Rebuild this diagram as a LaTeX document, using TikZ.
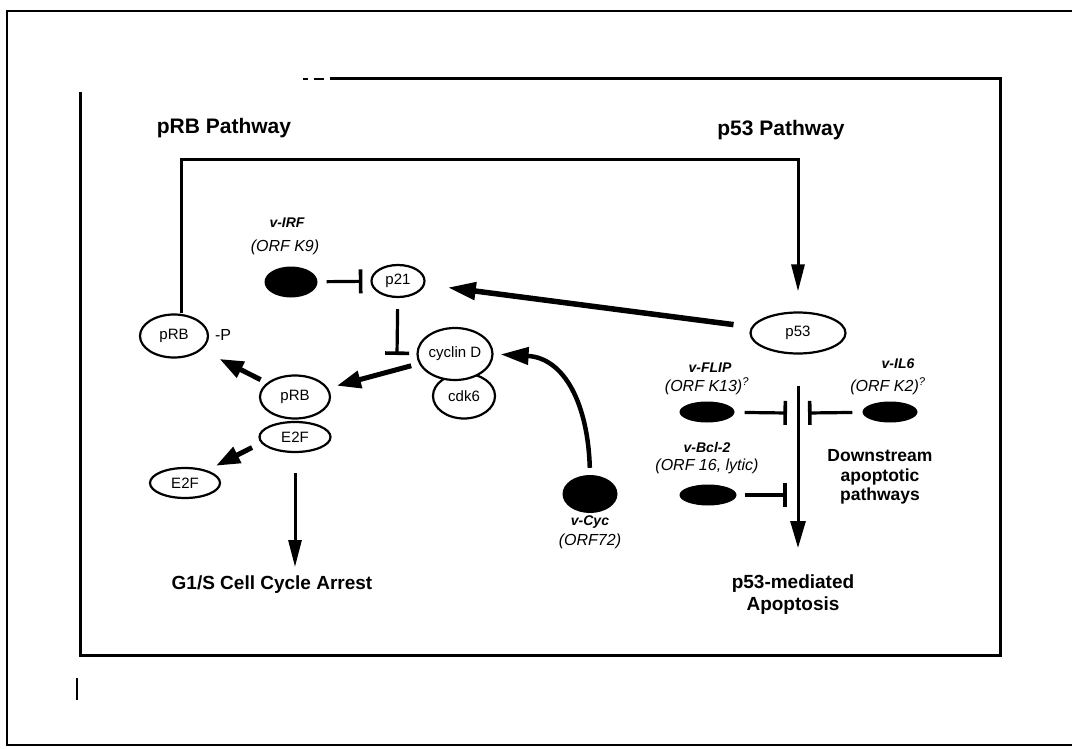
\documentclass[tikz,border=0pt]{standalone}
\usepackage{fontspec}
\setmainfont{Liberation Sans}
\usetikzlibrary{shapes.geometric,arrows.meta}
\newcommand\myfs[1]{\fontsize{#1}{#1}\selectfont}
\begin{document}
\begin{tikzpicture}[x=1pt,y=-1pt,
 ov/.style={ellipse,draw,fill=white,line width=2.2pt,inner sep=0pt,font=\myfs{15}},
 blob/.style={ellipse,fill=black,inner sep=0pt},
 hdr/.style={font=\bfseries\myfs{21},inner sep=0pt},
 bl/.style={font=\bfseries\myfs{19},align=center,inner sep=0pt},
 ds/.style={font=\bfseries\myfs{17.5},align=center,inner sep=0pt},
 nm/.style={font=\bfseries\itshape\myfs{14},inner sep=0pt},
 orf/.style={font=\itshape\myfs{16},inner sep=0pt},
 thinar/.style={line width=3pt,-{Triangle[length=27pt,width=13pt]}},
 fatar/.style={line width=5pt,-{Triangle[length=24pt,width=17pt]}},
 inh/.style={line width=3.2pt,-{Bar[width=24pt,line width=3.6pt]}},
 frame/.style={line width=3pt},
 thinframe/.style={line width=1.6pt}
]
\useasboundingbox (0,0) rectangle (1072,749);
\fill[white] (0,0) rectangle (1072,749);

% frames
\draw[thinframe] (1072,11) -- (7,11) -- (7,745) -- (1072,745);
\draw[frame] (80,92) -- (80,655) -- (1000,655) -- (1000,79) -- (330,79);
\draw[thinframe] (303,79) -- (308,79) (314,79) -- (324,79);
\draw[thinframe] (77,678) -- (77,700);

% headers
\node[hdr] (hprb) at (224,128) {pRB Pathway};
\node[hdr] (hp53) at (781,130) {p53 Pathway};

% pRB side nodes
\node[ov,minimum width=68pt,minimum height=43pt] (prbp) at (174,336) {pRB};
\node[font=\myfs{16},inner sep=0pt] (minusp) at (223,335) {-P};
\node[ov,minimum width=71pt,minimum height=30pt] (e2fa) at (295,437) {E2F};
\node[ov,minimum width=70pt,minimum height=43pt] (prb) at (295,397) {pRB};
\node[ov,minimum width=70pt,minimum height=30pt] (e2fb) at (185,483) {E2F};
\node[ov,minimum width=53pt,minimum height=32pt] (p21) at (398,281) {p21};
\node[ov,minimum width=62pt,minimum height=45pt] (cdk) at (464,396) {cdk6};
\node[ov,minimum width=75pt,minimum height=52pt] (cyc) at (455,354) {cyclin D};
\node[bl] (g1s) at (272,585) {G1/S Cell Cycle Arrest};

% viral proteins
\node[nm] (virfn) at (287,223) {v-IRF};
\node[orf] (virfo) at (285,247) {(ORF K9)};
\node[blob,minimum width=53pt,minimum height=31pt] (virf) at (291,282) {};

\node[blob,minimum width=55pt,minimum height=38pt] (vcyc) at (590,494) {};
\node[nm] (vcycn) at (590,522) {v-Cyc};
\node[orf] (vcyco) at (590,541) {(ORF72)};

% p53 side
\node[ov,minimum width=95pt,minimum height=41pt] (p53) at (798,333) {p53};
\node[nm] (vflipn) at (710,368) {v-FLIP};
\node[orf] (vflipo) at (707,386) {(ORF K13)\textsuperscript{?}};
\node[blob,minimum width=55pt,minimum height=21pt] (vflip) at (707,412) {};
\node[nm] (vil6n) at (898,364) {v-IL6};
\node[orf] (vil6o) at (888,386) {(ORF K2)\textsuperscript{?}};
\node[blob,minimum width=55pt,minimum height=21pt] (vil6) at (890,412) {};
\node[nm] (vbcln) at (707,447) {v-Bcl-2};
\node[orf] (vbclo) at (707,466) {(ORF 16, lytic)};
\node[blob,minimum width=57pt,minimum height=21pt] (vbcl) at (708,495) {};
\node[ds] (down) at (880,477) {Downstream\\[2pt]apoptotic\\[2pt]pathways};
\node[bl] (apop) at (793,595) {p53-mediated\\[3pt]Apoptosis};

% helper coordinates
\coordinate (bk1) at (181,160);
\coordinate (bk2) at (798,160);
\coordinate (tp21) at (397,355);
\coordinate (tflip) at (787,413);
\coordinate (til6) at (808,413);
\coordinate (tbcl) at (787,495);
\coordinate (ptip) at (798,548);
\coordinate (gtip) at (295,567);

% connectors
\draw[thinar,shorten >=20pt] ([xshift=7pt]prbp.north) -- (bk1) -- (bk2) -- (p53.north);
\draw[line width=5.5pt,-{Triangle[length=28pt,width=17pt]},shorten <=18pt,shorten >=23pt] (p53) -- (p21);
\draw[inh,shorten <=9pt,shorten >=8pt] (virf) -- (p21);
\draw[inh,shorten <=11pt] (p21) -- (tp21);
\draw[fatar,shorten <=8pt,shorten >=9pt] (cyc) -- (prb);
\draw[fatar,shorten <=7pt,shorten >=20pt] (prb) -- (prbp);
\draw[fatar,shorten <=10pt,shorten >=10pt] (e2fa.190) -- (e2fb.30);
\draw[thinar,shorten <=20pt] (e2fa) -- (gtip);
\draw[line width=4.5pt,-{Triangle[length=28pt,width=17pt]},shorten <=7pt,shorten >=7pt]
  (vcyc.north) .. controls (588,405) and (565,358) .. (cyc.east);
\draw[thinar,-{Triangle[length=27pt,width=15pt]},shorten <=31pt] (p53) -- (ptip);
\draw[inh,shorten <=10pt] (vflip) -- (tflip);
\draw[inh,shorten <=10pt] (vil6) -- (til6);
\draw[inh,shorten <=8pt] (vbcl) -- (tbcl);
\end{tikzpicture}
\end{document}
